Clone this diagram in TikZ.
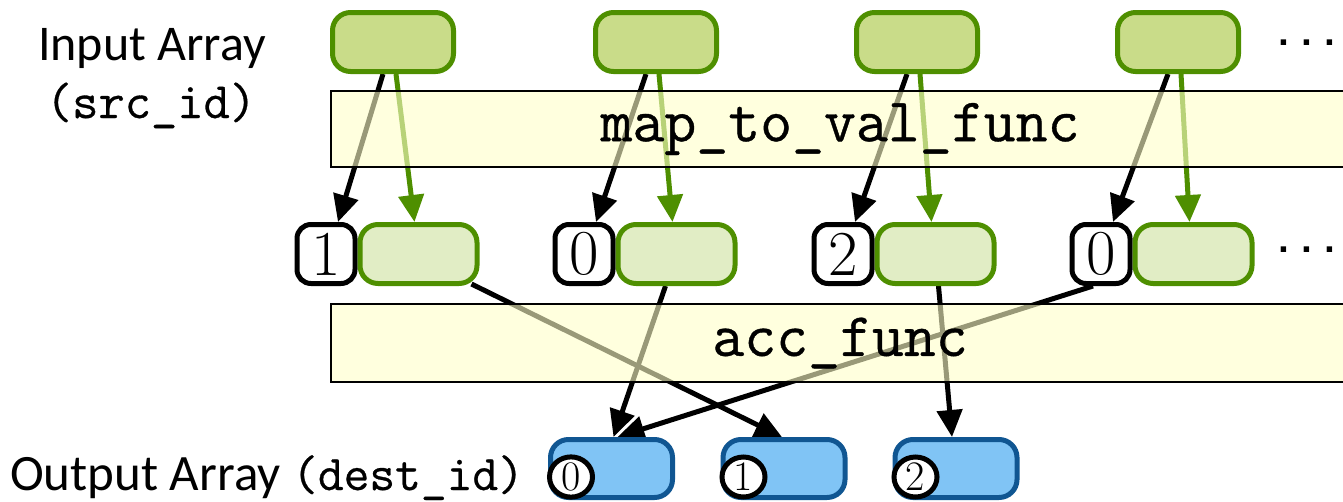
\documentclass[tikz,border=0pt]{standalone}
\usepackage{fontspec}
\setmonofont{Latin Modern Mono}[FakeBold=0.6]
\newfontfamily\labelfont{Carlito}
\newfontfamily\dotfont{Liberation Mono}
\usetikzlibrary{arrows.meta,positioning,backgrounds,shapes.geometric}

\definecolor{arrgreen}{RGB}{78,143,0}
\definecolor{ingreen}{RGB}{201,220,137}
\definecolor{valgreen}{RGB}{225,237,197}
\definecolor{outblue}{RGB}{128,196,245}
\definecolor{outborder}{RGB}{16,86,146}
\definecolor{funcyellow}{RGB}{255,255,200}

\tikzset{
  inbox/.style={draw=arrgreen, fill=ingreen, line width=5pt, rounded corners=18pt, minimum width=121pt, minimum height=59pt, inner sep=0pt},
  valbox/.style={draw=arrgreen, fill=valgreen, line width=5pt, rounded corners=18pt, minimum width=117pt, minimum height=59pt, inner sep=0pt},
  idxbox/.style={draw=black, fill=white, line width=5pt, rounded corners=14pt, minimum width=58pt, minimum height=59pt, inner sep=0pt, font=\fontsize{64}{64}\selectfont},
  outbox/.style={draw=outborder, fill=outblue, line width=5pt, rounded corners=18pt, minimum width=122pt, minimum height=58pt, inner sep=0pt},
  oidxbox/.style={ellipse, draw=black, fill=white, line width=5pt, minimum width=43pt, minimum height=40pt, inner sep=0pt, font=\fontsize{42}{42}\selectfont},
  funcbox/.style={draw=black, line width=2pt, fill=funcyellow, fill opacity=0.6, text opacity=1, minimum width=1018pt, inner sep=0pt, font=\ttfamily\fontsize{62}{62}\selectfont},
  dotstext/.style={font=\dotfont\bfseries\fontsize{38}{38}\selectfont},
  blkarrow/.style={line width=5pt, -{Triangle[length=27pt,width=25pt]}},
  grnarrow/.style={blkarrow, draw=arrgreen},
}

\begin{document}
\begin{tikzpicture}[x=1pt,y=-1pt]
    \useasboundingbox (0,0) rectangle (1343,501);

    % labels
    \node [font=\labelfont\fontsize{50}{50}\selectfont, anchor=base] (inlabel) at (152,60) {Input Array};
    \node [font=\ttfamily\fontsize{51}{51}\selectfont, anchor=base] (srclabel) at (151,118) {(src\_id)};
    \node [font=\labelfont\fontsize{51}{51}\selectfont, anchor=base west, inner sep=0pt] (outlabel) at (10,490)
        {Output Array {\ttfamily\fontsize{50}{50}\selectfont(dest\_id)}};

    % input array
    \node [inbox] (in1) at (393,42) {};
    \node [inbox] (in2) at (656,42) {};
    \node [inbox] (in3) at (917,42) {};
    \node [inbox] (in4) at (1178,42) {};
    \node [dotstext] (topdots) at (1307,43) {...};

    % mapped values with their ids
    \node [idxbox] (id1) at (326,254) {1};
    \node [valbox, right=0pt of id1] (val1) {};
    \node [idxbox] (id2) at (584,254) {0};
    \node [valbox, right=0pt of id2] (val2) {};
    \node [idxbox] (id3) at (843,254) {2};
    \node [valbox, right=0pt of id3] (val3) {};
    \node [idxbox] (id4) at (1101,254) {0};
    \node [valbox, right=0pt of id4] (val4) {};
    \node [dotstext] (middots) at (1307,250) {...};

    % output array
    \node [outbox] (out1) at (611.5,468.5) {};
    \node [outbox] (out2) at (784,468.5) {};
    \node [outbox] (out3) at (956,468.5) {};
    \node [oidxbox] (oid1) at ([shift={(23pt,23pt)}]out1.south west) {0};
    \node [oidxbox] (oid2) at ([shift={(23pt,23pt)}]out2.south west) {1};
    \node [oidxbox] (oid3) at ([shift={(23pt,23pt)}]out3.south west) {2};

    % functions
    \node [funcbox, minimum height=76pt] (mapfunc) at (840,129) {map\_to\_val\_func};
    \node [funcbox, minimum height=78pt] (accfunc) at (840,343) {acc\_func};

    \begin{scope}[on background layer]
        \draw [blkarrow] ([xshift=-10pt]in1.south) -- ([xshift=12pt]id1.north);
        \draw [grnarrow] ([xshift=3pt]in1.south) -- ([xshift=-4pt]val1.north);
        \draw [blkarrow] ([xshift=-10pt]in2.south) -- ([xshift=12pt]id2.north);
        \draw [grnarrow] ([xshift=3pt]in2.south) -- ([xshift=-4pt]val2.north);
        \draw [blkarrow] ([xshift=-10pt]in3.south) -- ([xshift=12pt]id3.north);
        \draw [grnarrow] ([xshift=3pt]in3.south) -- ([xshift=-4pt]val3.north);
        \draw [blkarrow] ([xshift=-10pt]in4.south) -- ([xshift=12pt]id4.north);
        \draw [grnarrow] ([xshift=3pt]in4.south) -- ([xshift=-4pt]val4.north);

        \draw [blkarrow] ([shift={(-8pt,2pt)}]val1.south east) -- ([xshift=-2pt]out2.north);
        \draw [blkarrow] ([xshift=-11pt]val2.south) -- ([xshift=2pt]out1.north);
        \draw [blkarrow] ([xshift=3pt]val3.south) -- ([xshift=-4pt]out3.north);
        \draw [blkarrow] ([xshift=-8pt]id4.south) -- ([xshift=6pt]out1.north);
    \end{scope}
\end{tikzpicture}
\end{document}
